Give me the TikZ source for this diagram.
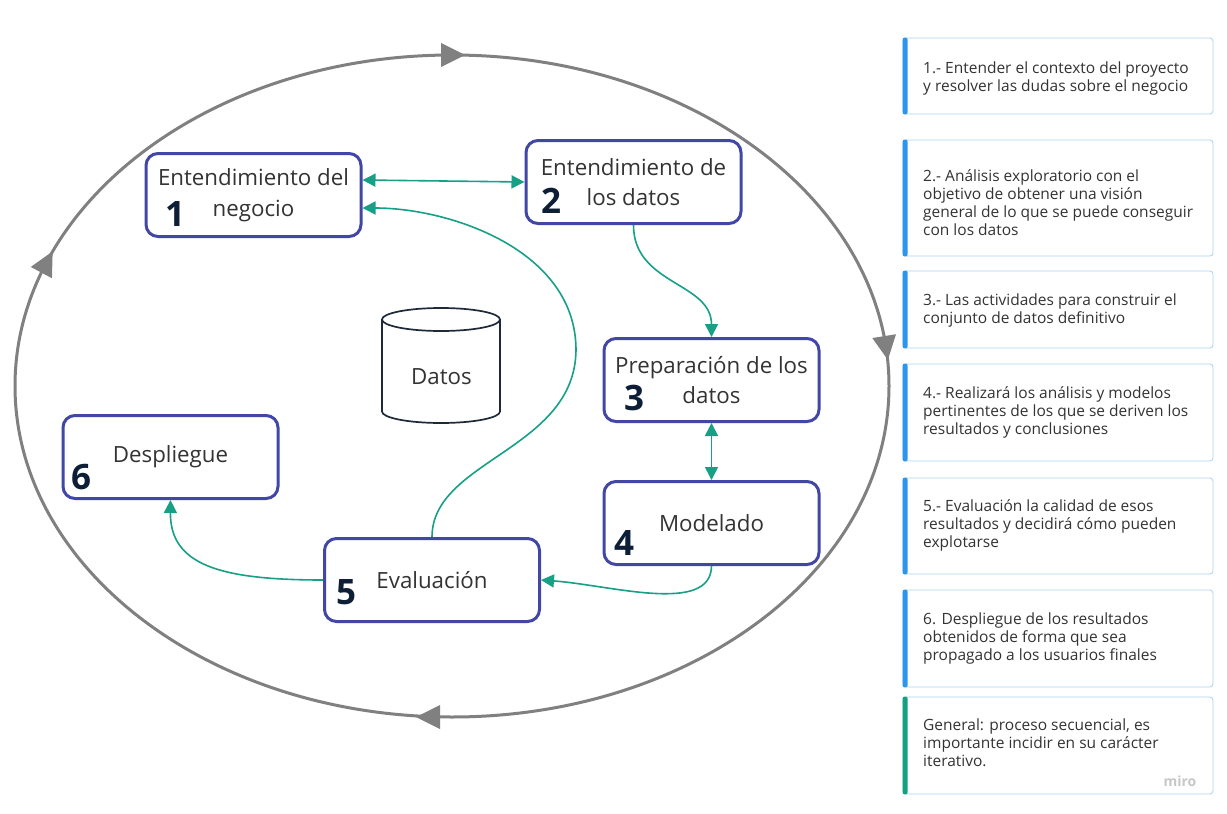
\documentclass[tikz,border=0pt]{standalone}
\usepackage{fontspec}
\setmainfont{Open Sans}
\usetikzlibrary{arrows.meta}
\definecolor{boxblue}{HTML}{4247A6}
\definecolor{flowteal}{HTML}{17A086}
\definecolor{ringgray}{HTML}{808080}
\definecolor{txtc}{HTML}{333333}
\definecolor{numc}{HTML}{0D1E36}
\definecolor{accentb}{HTML}{2D96EC}
\definecolor{accentg}{HTML}{13A17E}
\definecolor{noteborder}{HTML}{A9D2F2}
\definecolor{datc}{HTML}{1E2A3A}
\begin{document}
\begin{tikzpicture}[x=1pt,y=-1pt,
  stage/.style={draw=boxblue, line width=3pt, rounded corners=12pt, minimum width=215pt, minimum height=83pt, inner sep=0pt, fill=white, text=txtc, font=\fontsize{22.3}{30.5}\selectfont, align=center},
  num/.style={text=numc, font=\fontsize{35}{35}\selectfont\bfseries, inner sep=0pt},
  flow/.style={draw=flowteal, line width=1.6pt, -{Triangle[length=13pt,width=13pt]}},
  flowtwo/.style={draw=flowteal, line width=1.6pt, {Triangle[length=13pt,width=13pt]}-{Triangle[length=13pt,width=13pt]}},
  note/.style={draw=noteborder, line width=0.8pt, rounded corners=3pt, fill=white, minimum width=310pt, inner sep=0pt},
  notetxt/.style={anchor=west, text=txtc, font=\fontsize{15.5}{18}\selectfont, align=left, inner sep=0pt},
  ringarrow/.style={fill=ringgray},
]
\fill[white] (0,0) rectangle (1227,814);
\useasboundingbox (0,0) rectangle (1227,814);

% outer cycle
\draw[ringgray, line width=3pt] (452,386) ellipse [x radius=437pt, y radius=331pt];
\foreach \px/\py/\ang in {453/55/0, 886/348/-81, 428/717/180, 47/262/62}{
  \fill[ringarrow, shift={(\px,\py)}, rotate=\ang] (-12pt,12pt) -- (12pt,0pt) -- (-12pt,-12pt) -- cycle;
}

% database cylinder
\draw[datc, line width=1.7pt] (441,319.5) ellipse [x radius=59pt, y radius=11.5pt];
\draw[datc, line width=1.7pt] (382,319.5) -- (382,411.5) arc[start angle=180, end angle=360, x radius=59pt, y radius=11.5pt] -- (500,319.5);
\node[text=txtc, font=\fontsize{22.3}{26}\selectfont, inner sep=0pt] (datos) at (441.5,377) {Datos};

% stages
\node[stage] (n1) at (253.5,195) {Entendimiento del\\negocio};
\node[stage] (n2) at (633.5,182) {Entendimiento de\\los datos};
\node[stage] (n3) at (711.5,380) {Preparación de los\\datos};
\node[stage] (n4) at (711.5,523) {Modelado};
\node[stage] (n5) at (432,580) {Evaluación};
\node[stage] (n6) at (170.5,457) {Despliegue};

\node[num] (k1) at (175,214) {1};
\node[num] (k2) at (551,201) {2};
\node[num] (k3) at (634,398) {3};
\node[num] (k4) at (624,543) {4};
\node[num] (k5) at (346,592) {5};
\node[num] (k6) at (81,477) {6};

% connectors
\draw[flowtwo] ([yshift=15pt]n1.east) -- (n2.west);
\draw[flow] (n5.north) .. controls (432,460) and (575,450) .. (576,350) .. controls (576,250) and (450,208) .. ([yshift=-13pt]n1.east);
\draw[flow] (n2.south) .. controls +(0,60) and +(0,-55) .. (n3.north);
\draw[flowtwo] (n3.south) -- (n4.north);
\draw[flow] (n4.south) .. controls (711,615) and (610,585) .. (n5.east);
\draw[flow] (n5.west) .. controls (220,580) and (170,565) .. (n6.south);

% notes
\foreach \nm/\cy/\h/\col in {na/76/76/accentb, nb/198/116/accentb, nc/309.5/77/accentb, nd/412.5/97/accentb, ne/526/96/accentb, nf/638.5/97/accentb, ng/745.5/97/accentg}{
  \node[note, minimum height=\h pt] (\nm) at (1058,\cy) {};
  \fill[\col, rounded corners=2pt] (\nm.north west) rectangle ([xshift=5pt]\nm.south west);
}
\node[notetxt] (ta) at (923,78) {1.- Entender el contexto del proyecto\\y resolver las dudas sobre el negocio};
\node[notetxt] (tb) at (923,203) {2.- Análisis exploratorio con el\\objetivo de obtener una visión\\general de lo que se puede conseguir\\con los datos};
\node[notetxt] (tc) at (923,310) {3.- Las actividades para construir el\\conjunto de datos definitivo};
\node[notetxt] (td) at (923,412.5) {4.- Realizará los análisis y modelos\\pertinentes de los que se deriven los\\resultados y conclusiones};
\node[notetxt] (te) at (923,525) {5.- Evaluación la calidad de esos\\resultados y decidirá cómo pueden\\explotarse};
\node[notetxt] (tf) at (923,638) {6. Despliegue de los resultados\\obtenidos de forma que sea\\propagado a los usuarios finales};
\node[notetxt] (tg) at (923,743) {General: proceso secuencial, es\\importante incidir en su carácter\\iterativo.};
\node[text=black!22, font=\fontsize{14}{14}\selectfont\bfseries, inner sep=0pt] (miro) at (1180,781) {miro};
\end{tikzpicture}
\end{document}
